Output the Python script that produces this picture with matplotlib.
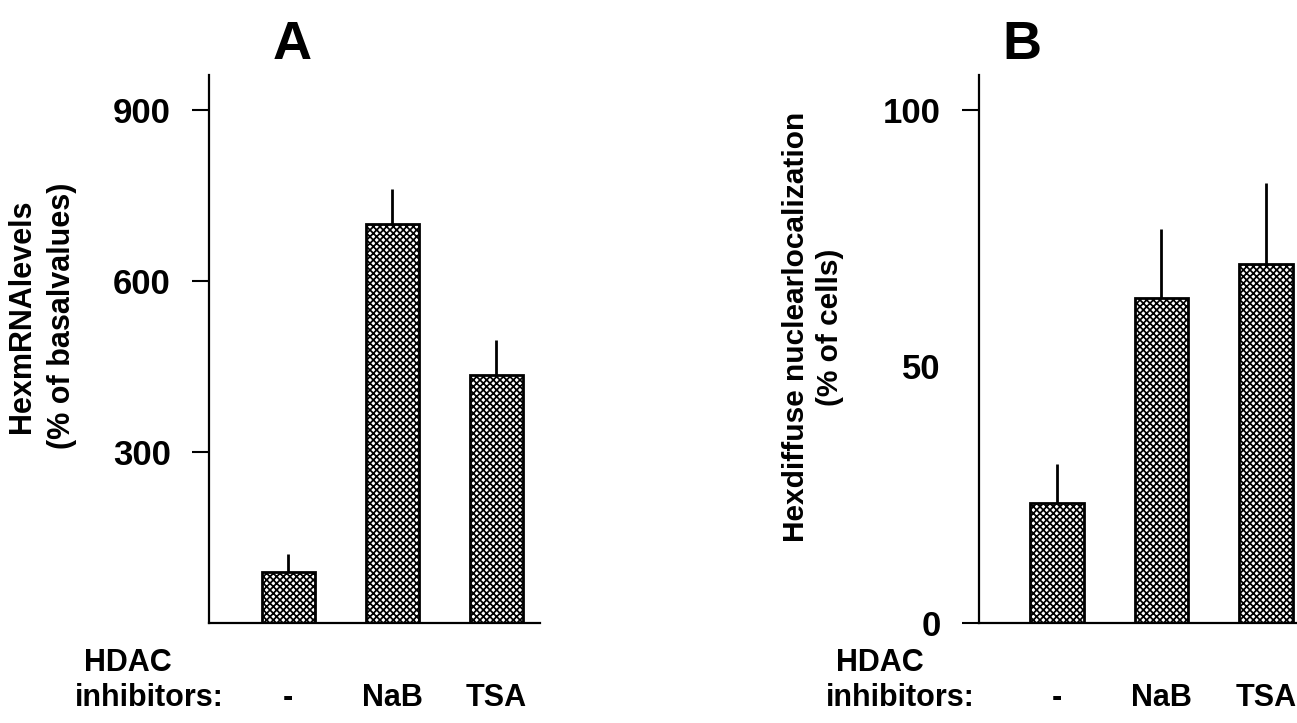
import numpy as np
import matplotlib
matplotlib.use("Agg")
import matplotlib.pyplot as plt

# ------------- dados -------------------
grupos = ["-", "NaB", "TSA"]

# painel A: Hex mRNA (% basal)
media_a = [90, 700, 435]
erro_a = [31, 61, 61]
ticks_a = [300, 600, 900]

# painel B: localizacao nuclear difusa (% de celulas)
media_b = [23.4, 63.4, 70.0]
erro_b = [7.6, 13.4, 15.8]
ticks_b = [0, 50, 100]

plt.rcParams['font.family'] = ['Liberation Sans', 'DejaVu Sans']
plt.rcParams['font.weight'] = 'bold'
plt.rcParams['hatch.linewidth'] = 1.25
plt.rcParams['hatch.color'] = 'black'

W, H = 1297, 723
fig = plt.figure(figsize=(W / 100, H / 100), dpi=100)

def eixo(px_esq, px_dir):
    # retangulo em pixels: base y=623, topo y=75
    return fig.add_axes([px_esq / W, (H - 623) / H, (px_dir - px_esq) / W, (623 - 75) / H])

def painel(ax, medias, erros, ymax, xlim, ticks):
    x = np.arange(len(grupos))
    ax.bar(x, medias, width=0.51, color="white", edgecolor="black",
           linewidth=2, hatch="xxxxx", zorder=2)
    ax.errorbar(x, medias, yerr=[np.zeros(len(medias)), erros], fmt="none",
                ecolor="black", elinewidth=2, capsize=0, zorder=1)
    ax.set_xlim(*xlim)
    ax.set_ylim(0, ymax)
    ax.set_xticks(x)
    ax.set_xticklabels(grupos, fontsize=22, fontweight="bold")
    ax.set_yticks(ticks)
    ax.set_yticklabels([str(t) for t in ticks], fontsize=25, fontweight="bold")
    for s in ["top", "right"]:
        ax.spines[s].set_visible(False)
    for s in ["left", "bottom"]:
        ax.spines[s].set_linewidth(1.6)
    ax.tick_params(axis="x", length=0, pad=43)
    ax.tick_params(axis="y", length=12.5, width=1.5, pad=15)

# ------------- painel A -------------------
axA = eixo(209, 540)
painel(axA, media_a, erro_a, 961, (-0.76, 2.42), ticks_a)
fig.text(292 / W, 1 - 45 / H, "A", fontsize=39, fontweight="bold", ha="center", va="center")
fig.text(42 / W, 1 - 316 / H, "HexmRNAlevels\n(% of basalvalues)", fontsize=22,
         fontweight="bold", rotation=90, ha="center", va="center", linespacing=1.42)
fig.text(84 / W, 1 - 663 / H, "HDAC", fontsize=22, fontweight="bold", ha="left", va="center")
fig.text(75 / W, 1 - 698 / H, "inhibitors:", fontsize=22, fontweight="bold", ha="left", va="center")

# ------------- painel B -------------------
axB = eixo(979, 1297)
painel(axB, media_b, erro_b, 106.8, (-0.746, 2.297), ticks_b)
# sem marca no 50
axB.yaxis.get_major_ticks()[1].tick1line.set_visible(False)
fig.text(1022 / W, 1 - 45 / H, "B", fontsize=39, fontweight="bold", ha="center", va="center")
fig.text(813 / W, 1 - 327 / H, "Hexdiffuse nuclearlocalization\n(% of cells)", fontsize=21.5,
         fontweight="bold", rotation=90, ha="center", va="center", linespacing=1.3)
fig.text(836 / W, 1 - 663 / H, "HDAC", fontsize=22, fontweight="bold", ha="left", va="center")
fig.text(826 / W, 1 - 698 / H, "inhibitors:", fontsize=22, fontweight="bold", ha="left", va="center")

fig.savefig("out.png", dpi=100)
